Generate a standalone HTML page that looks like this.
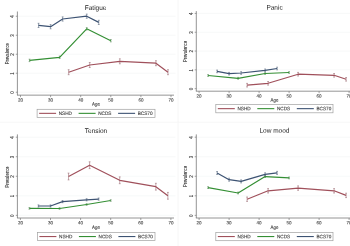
<!DOCTYPE html>
<html><head><meta charset="utf-8"><style>
html,body{margin:0;padding:0;background:#fff;width:350px;height:246px;overflow:hidden}
svg{display:block;will-change:transform;opacity:0.999}
#w{width:350px;height:246px}
text{font-family:"Liberation Sans", sans-serif;stroke:#3a3a3a;stroke-width:0.1px;paint-order:stroke}
</style></head><body><div id="w">
<svg width="350" height="246" viewBox="0 0 350 246">
<rect width="350" height="246" fill="#fff"/>
<line x1="17.9" y1="92.24" x2="175.5" y2="92.24" stroke="#f3f6f7" stroke-width="0.7"/>
<line x1="17.9" y1="73.24" x2="175.5" y2="73.24" stroke="#f3f6f7" stroke-width="0.7"/>
<line x1="17.9" y1="54.24" x2="175.5" y2="54.24" stroke="#f3f6f7" stroke-width="0.7"/>
<line x1="17.9" y1="35.24" x2="175.5" y2="35.24" stroke="#f3f6f7" stroke-width="0.7"/>
<line x1="17.9" y1="16.24" x2="175.5" y2="16.24" stroke="#f3f6f7" stroke-width="0.7"/>
<line x1="17.4" y1="11.5" x2="17.4" y2="95.15" stroke="#7a7a7a" stroke-width="0.8"/>
<line x1="17" y1="95.15" x2="174" y2="95.15" stroke="#7a7a7a" stroke-width="0.8"/>
<line x1="15.8" y1="92.24" x2="17.4" y2="92.24" stroke="#7a7a7a" stroke-width="0.7"/>
<text transform="translate(14.4,92.54) rotate(-90) scale(1,1.0)" text-anchor="middle" font-size="4.5" fill="#3a3a3a">0</text>
<line x1="15.8" y1="73.24" x2="17.4" y2="73.24" stroke="#7a7a7a" stroke-width="0.7"/>
<text transform="translate(14.4,73.54) rotate(-90) scale(1,1.0)" text-anchor="middle" font-size="4.5" fill="#3a3a3a">1</text>
<line x1="15.8" y1="54.24" x2="17.4" y2="54.24" stroke="#7a7a7a" stroke-width="0.7"/>
<text transform="translate(14.4,54.54) rotate(-90) scale(1,1.0)" text-anchor="middle" font-size="4.5" fill="#3a3a3a">2</text>
<line x1="15.8" y1="35.24" x2="17.4" y2="35.24" stroke="#7a7a7a" stroke-width="0.7"/>
<text transform="translate(14.4,35.54) rotate(-90) scale(1,1.0)" text-anchor="middle" font-size="4.5" fill="#3a3a3a">3</text>
<line x1="15.8" y1="16.24" x2="17.4" y2="16.24" stroke="#7a7a7a" stroke-width="0.7"/>
<text transform="translate(14.4,16.54) rotate(-90) scale(1,1.0)" text-anchor="middle" font-size="4.5" fill="#3a3a3a">4</text>
<line x1="20.5" y1="95.15" x2="20.5" y2="97.15" stroke="#7a7a7a" stroke-width="0.7"/>
<text transform="translate(20.5,101.45) rotate(0.1) scale(1,1.0)" text-anchor="middle" font-size="4.5" fill="#3a3a3a">20</text>
<line x1="50.6" y1="95.15" x2="50.6" y2="97.15" stroke="#7a7a7a" stroke-width="0.7"/>
<text transform="translate(50.6,101.45) rotate(0.1) scale(1,1.0)" text-anchor="middle" font-size="4.5" fill="#3a3a3a">30</text>
<line x1="80.7" y1="95.15" x2="80.7" y2="97.15" stroke="#7a7a7a" stroke-width="0.7"/>
<text transform="translate(80.7,101.45) rotate(0.1) scale(1,1.0)" text-anchor="middle" font-size="4.5" fill="#3a3a3a">40</text>
<line x1="110.8" y1="95.15" x2="110.8" y2="97.15" stroke="#7a7a7a" stroke-width="0.7"/>
<text transform="translate(110.8,101.45) rotate(0.1) scale(1,1.0)" text-anchor="middle" font-size="4.5" fill="#3a3a3a">50</text>
<line x1="140.9" y1="95.15" x2="140.9" y2="97.15" stroke="#7a7a7a" stroke-width="0.7"/>
<text transform="translate(140.9,101.45) rotate(0.1) scale(1,1.0)" text-anchor="middle" font-size="4.5" fill="#3a3a3a">60</text>
<line x1="171" y1="95.15" x2="171" y2="97.15" stroke="#7a7a7a" stroke-width="0.7"/>
<text transform="translate(171,101.45) rotate(0.1) scale(1,1.0)" text-anchor="middle" font-size="4.5" fill="#3a3a3a">70</text>
<text transform="translate(95.6,9.9) rotate(0.1) scale(1,1.04)" text-anchor="middle" font-size="6.5" fill="#222" style="stroke-width:0px">Fatigue</text>
<text transform="translate(8.6,53.8) rotate(-90) scale(1,1.2)" text-anchor="middle" font-size="4.2" fill="#3a3a3a">Prevalence</text>
<text transform="translate(96,105.8) rotate(0.1) scale(1,1.12)" text-anchor="middle" font-size="4.4" fill="#3a3a3a">Age</text>
<rect x="37.1" y="109.3" width="117.9" height="8.1" fill="#fff" stroke="#a0a0a0" stroke-width="0.7"/>
<line x1="39.1" y1="113.35" x2="56.1" y2="113.35" stroke="#a0505b" stroke-width="1.1"/>
<text transform="translate(58.7,115) rotate(0.1) scale(1,1.04)" font-size="4.7" fill="#3a3a3a">NSHD</text>
<line x1="78.6" y1="113.35" x2="95.6" y2="113.35" stroke="#348f34" stroke-width="1.1"/>
<text transform="translate(98.2,115) rotate(0.1) scale(1,1.04)" font-size="4.7" fill="#3a3a3a">NCDS</text>
<line x1="118.1" y1="113.35" x2="135.1" y2="113.35" stroke="#3d5373" stroke-width="1.1"/>
<text transform="translate(137.7,115) rotate(0.1) scale(1,1.04)" font-size="4.7" fill="#3a3a3a">BCS70</text>
<path d="M68.66 69.7V74.7M67.76 69.7H69.56M67.76 74.7H69.56M89.73 62.5V67.5M88.83 62.5H90.63M88.83 67.5H90.63M119.83 58.8V63.8M118.93 58.8H120.73M118.93 63.8H120.73M155.95 60.7V65.7M155.05 60.7H156.85M155.05 65.7H156.85M167.99 69.7V74.7M167.09 69.7H168.89M167.09 74.7H168.89" stroke="#9a6a72" stroke-width="0.6" fill="none"/>
<polyline points="68.66,72.2 89.73,65 119.83,61.3 155.95,63.2 167.99,72.2" fill="none" stroke="#a0505b" stroke-width="1.2" stroke-linejoin="round"/>
<path d="M29.53 59.2V61.6M28.63 59.2H30.43M28.63 61.6H30.43M59.63 56.1V58.5M58.73 56.1H60.53M58.73 58.5H60.53M86.72 27.6V30M85.82 27.6H87.62M85.82 30H87.62M110.8 39.5V41.9M109.9 39.5H111.7M109.9 41.9H111.7" stroke="#5a8a5a" stroke-width="0.6" fill="none"/>
<polyline points="29.53,60.4 59.63,57.3 86.72,28.8 110.8,40.7" fill="none" stroke="#348f34" stroke-width="1.2" stroke-linejoin="round"/>
<path d="M38.56 23.3V27.5M37.66 23.3H39.46M37.66 27.5H39.46M50.6 24.6V28.8M49.7 24.6H51.5M49.7 28.8H51.5M62.64 16.9V21.1M61.74 16.9H63.54M61.74 21.1H63.54M86.72 14.1V18.3M85.82 14.1H87.62M85.82 18.3H87.62M98.76 20.3V24.5M97.86 20.3H99.66M97.86 24.5H99.66" stroke="#5a6a80" stroke-width="0.6" fill="none"/>
<polyline points="38.56,25.4 50.6,26.7 62.64,19 86.72,16.2 98.76,22.4" fill="none" stroke="#3d5373" stroke-width="1.2" stroke-linejoin="round"/>
<line x1="196.8" y1="88.65" x2="352.5" y2="88.65" stroke="#f3f6f7" stroke-width="0.7"/>
<line x1="196.8" y1="69.85" x2="352.5" y2="69.85" stroke="#f3f6f7" stroke-width="0.7"/>
<line x1="196.8" y1="51.05" x2="352.5" y2="51.05" stroke="#f3f6f7" stroke-width="0.7"/>
<line x1="196.8" y1="32.25" x2="352.5" y2="32.25" stroke="#f3f6f7" stroke-width="0.7"/>
<line x1="196.8" y1="13.45" x2="352.5" y2="13.45" stroke="#f3f6f7" stroke-width="0.7"/>
<line x1="196.3" y1="11.1" x2="196.3" y2="91.2" stroke="#7a7a7a" stroke-width="0.8"/>
<line x1="195.9" y1="91.2" x2="351" y2="91.2" stroke="#7a7a7a" stroke-width="0.8"/>
<line x1="194.7" y1="88.65" x2="196.3" y2="88.65" stroke="#7a7a7a" stroke-width="0.7"/>
<text transform="translate(193.3,88.95) rotate(-90) scale(1,1.0)" text-anchor="middle" font-size="4.5" fill="#3a3a3a">0</text>
<line x1="194.7" y1="69.85" x2="196.3" y2="69.85" stroke="#7a7a7a" stroke-width="0.7"/>
<text transform="translate(193.3,70.15) rotate(-90) scale(1,1.0)" text-anchor="middle" font-size="4.5" fill="#3a3a3a">1</text>
<line x1="194.7" y1="51.05" x2="196.3" y2="51.05" stroke="#7a7a7a" stroke-width="0.7"/>
<text transform="translate(193.3,51.35) rotate(-90) scale(1,1.0)" text-anchor="middle" font-size="4.5" fill="#3a3a3a">2</text>
<line x1="194.7" y1="32.25" x2="196.3" y2="32.25" stroke="#7a7a7a" stroke-width="0.7"/>
<text transform="translate(193.3,32.55) rotate(-90) scale(1,1.0)" text-anchor="middle" font-size="4.5" fill="#3a3a3a">3</text>
<line x1="194.7" y1="13.45" x2="196.3" y2="13.45" stroke="#7a7a7a" stroke-width="0.7"/>
<text transform="translate(193.3,13.75) rotate(-90) scale(1,1.0)" text-anchor="middle" font-size="4.5" fill="#3a3a3a">4</text>
<line x1="199.1" y1="91.2" x2="199.1" y2="93.2" stroke="#7a7a7a" stroke-width="0.7"/>
<text transform="translate(199.1,97.5) rotate(0.1) scale(1,1.0)" text-anchor="middle" font-size="4.5" fill="#3a3a3a">20</text>
<line x1="229.1" y1="91.2" x2="229.1" y2="93.2" stroke="#7a7a7a" stroke-width="0.7"/>
<text transform="translate(229.1,97.5) rotate(0.1) scale(1,1.0)" text-anchor="middle" font-size="4.5" fill="#3a3a3a">30</text>
<line x1="259.1" y1="91.2" x2="259.1" y2="93.2" stroke="#7a7a7a" stroke-width="0.7"/>
<text transform="translate(259.1,97.5) rotate(0.1) scale(1,1.0)" text-anchor="middle" font-size="4.5" fill="#3a3a3a">40</text>
<line x1="289.1" y1="91.2" x2="289.1" y2="93.2" stroke="#7a7a7a" stroke-width="0.7"/>
<text transform="translate(289.1,97.5) rotate(0.1) scale(1,1.0)" text-anchor="middle" font-size="4.5" fill="#3a3a3a">50</text>
<line x1="319.1" y1="91.2" x2="319.1" y2="93.2" stroke="#7a7a7a" stroke-width="0.7"/>
<text transform="translate(319.1,97.5) rotate(0.1) scale(1,1.0)" text-anchor="middle" font-size="4.5" fill="#3a3a3a">60</text>
<line x1="349.1" y1="91.2" x2="349.1" y2="93.2" stroke="#7a7a7a" stroke-width="0.7"/>
<text transform="translate(349.1,97.5) rotate(0.1) scale(1,1.0)" text-anchor="middle" font-size="4.5" fill="#3a3a3a">70</text>
<text transform="translate(274.5,9.8) rotate(0.1) scale(1,1.04)" text-anchor="middle" font-size="6.5" fill="#222" style="stroke-width:0px">Panic</text>
<text transform="translate(186.8,51.5) rotate(-90) scale(1,1.2)" text-anchor="middle" font-size="4.2" fill="#3a3a3a">Prevalence</text>
<text transform="translate(274.5,101.8) rotate(0.1) scale(1,1.12)" text-anchor="middle" font-size="4.4" fill="#3a3a3a">Age</text>
<rect x="215.8" y="104.5" width="117.2" height="8.3" fill="#fff" stroke="#a0a0a0" stroke-width="0.7"/>
<line x1="217.8" y1="108.65" x2="234.8" y2="108.65" stroke="#a0505b" stroke-width="1.1"/>
<text transform="translate(237.4,110.3) rotate(0.1) scale(1,1.04)" font-size="4.7" fill="#3a3a3a">NSHD</text>
<line x1="257.3" y1="108.65" x2="274.3" y2="108.65" stroke="#348f34" stroke-width="1.1"/>
<text transform="translate(276.9,110.3) rotate(0.1) scale(1,1.04)" font-size="4.7" fill="#3a3a3a">NCDS</text>
<line x1="296.8" y1="108.65" x2="313.8" y2="108.65" stroke="#3d5373" stroke-width="1.1"/>
<text transform="translate(316.4,110.3) rotate(0.1) scale(1,1.04)" font-size="4.7" fill="#3a3a3a">BCS70</text>
<path d="M247.1 83.4V87M246.2 83.4H248M246.2 87H248M268.1 81.5V85.1M267.2 81.5H269M267.2 85.1H269M298.1 72.4V76M297.2 72.4H299M297.2 76H299M334.1 73.5V77.1M333.2 73.5H335M333.2 77.1H335M346.1 77.5V81.1M345.2 77.5H347M345.2 81.1H347" stroke="#9a6a72" stroke-width="0.6" fill="none"/>
<polyline points="247.1,85.2 268.1,83.3 298.1,74.2 334.1,75.3 346.1,79.3" fill="none" stroke="#a0505b" stroke-width="1.2" stroke-linejoin="round"/>
<path d="M208.1 74.6V76.4M207.2 74.6H209M207.2 76.4H209M238.1 77.4V79.2M237.2 77.4H239M237.2 79.2H239M265.1 72.6V74.4M264.2 72.6H266M264.2 74.4H266M289.1 71.6V73.4M288.2 71.6H290M288.2 73.4H290" stroke="#5a8a5a" stroke-width="0.6" fill="none"/>
<polyline points="208.1,75.5 238.1,78.3 265.1,73.5 289.1,72.5" fill="none" stroke="#348f34" stroke-width="1.2" stroke-linejoin="round"/>
<path d="M217.1 70.1V72.7M216.2 70.1H218M216.2 72.7H218M229.1 72.4V75M228.2 72.4H230M228.2 75H230M241.1 71.7V74.3M240.2 71.7H242M240.2 74.3H242M265.1 69V71.6M264.2 69H266M264.2 71.6H266M277.1 67.2V69.8M276.2 67.2H278M276.2 69.8H278" stroke="#5a6a80" stroke-width="0.6" fill="none"/>
<polyline points="217.1,71.4 229.1,73.7 241.1,73 265.1,70.3 277.1,68.5" fill="none" stroke="#3d5373" stroke-width="1.2" stroke-linejoin="round"/>
<line x1="17.9" y1="215.36" x2="175.5" y2="215.36" stroke="#f3f6f7" stroke-width="0.7"/>
<line x1="17.9" y1="195.82" x2="175.5" y2="195.82" stroke="#f3f6f7" stroke-width="0.7"/>
<line x1="17.9" y1="176.28" x2="175.5" y2="176.28" stroke="#f3f6f7" stroke-width="0.7"/>
<line x1="17.9" y1="156.74" x2="175.5" y2="156.74" stroke="#f3f6f7" stroke-width="0.7"/>
<line x1="17.9" y1="137.2" x2="175.5" y2="137.2" stroke="#f3f6f7" stroke-width="0.7"/>
<line x1="17.4" y1="134.4" x2="17.4" y2="218" stroke="#7a7a7a" stroke-width="0.8"/>
<line x1="17" y1="218" x2="174" y2="218" stroke="#7a7a7a" stroke-width="0.8"/>
<line x1="15.8" y1="215.36" x2="17.4" y2="215.36" stroke="#7a7a7a" stroke-width="0.7"/>
<text transform="translate(14.4,215.66) rotate(-90) scale(1,1.0)" text-anchor="middle" font-size="4.5" fill="#3a3a3a">0</text>
<line x1="15.8" y1="195.82" x2="17.4" y2="195.82" stroke="#7a7a7a" stroke-width="0.7"/>
<text transform="translate(14.4,196.12) rotate(-90) scale(1,1.0)" text-anchor="middle" font-size="4.5" fill="#3a3a3a">1</text>
<line x1="15.8" y1="176.28" x2="17.4" y2="176.28" stroke="#7a7a7a" stroke-width="0.7"/>
<text transform="translate(14.4,176.58) rotate(-90) scale(1,1.0)" text-anchor="middle" font-size="4.5" fill="#3a3a3a">2</text>
<line x1="15.8" y1="156.74" x2="17.4" y2="156.74" stroke="#7a7a7a" stroke-width="0.7"/>
<text transform="translate(14.4,157.04) rotate(-90) scale(1,1.0)" text-anchor="middle" font-size="4.5" fill="#3a3a3a">3</text>
<line x1="15.8" y1="137.2" x2="17.4" y2="137.2" stroke="#7a7a7a" stroke-width="0.7"/>
<text transform="translate(14.4,137.5) rotate(-90) scale(1,1.0)" text-anchor="middle" font-size="4.5" fill="#3a3a3a">4</text>
<line x1="20.4" y1="218" x2="20.4" y2="220" stroke="#7a7a7a" stroke-width="0.7"/>
<text transform="translate(20.4,224.3) rotate(0.1) scale(1,1.0)" text-anchor="middle" font-size="4.5" fill="#3a3a3a">20</text>
<line x1="50.5" y1="218" x2="50.5" y2="220" stroke="#7a7a7a" stroke-width="0.7"/>
<text transform="translate(50.5,224.3) rotate(0.1) scale(1,1.0)" text-anchor="middle" font-size="4.5" fill="#3a3a3a">30</text>
<line x1="80.6" y1="218" x2="80.6" y2="220" stroke="#7a7a7a" stroke-width="0.7"/>
<text transform="translate(80.6,224.3) rotate(0.1) scale(1,1.0)" text-anchor="middle" font-size="4.5" fill="#3a3a3a">40</text>
<line x1="110.7" y1="218" x2="110.7" y2="220" stroke="#7a7a7a" stroke-width="0.7"/>
<text transform="translate(110.7,224.3) rotate(0.1) scale(1,1.0)" text-anchor="middle" font-size="4.5" fill="#3a3a3a">50</text>
<line x1="140.8" y1="218" x2="140.8" y2="220" stroke="#7a7a7a" stroke-width="0.7"/>
<text transform="translate(140.8,224.3) rotate(0.1) scale(1,1.0)" text-anchor="middle" font-size="4.5" fill="#3a3a3a">60</text>
<line x1="170.9" y1="218" x2="170.9" y2="220" stroke="#7a7a7a" stroke-width="0.7"/>
<text transform="translate(170.9,224.3) rotate(0.1) scale(1,1.0)" text-anchor="middle" font-size="4.5" fill="#3a3a3a">70</text>
<text transform="translate(96,132.9) rotate(0.1) scale(1,1.04)" text-anchor="middle" font-size="6.5" fill="#222" style="stroke-width:0px">Tension</text>
<text transform="translate(8.8,177.1) rotate(-90) scale(1,1.2)" text-anchor="middle" font-size="4.2" fill="#3a3a3a">Prevalence</text>
<text transform="translate(96,229) rotate(0.1) scale(1,1.12)" text-anchor="middle" font-size="4.4" fill="#3a3a3a">Age</text>
<rect x="37.4" y="232.5" width="117.6" height="8.1" fill="#fff" stroke="#a0a0a0" stroke-width="0.7"/>
<line x1="39.4" y1="236.55" x2="56.4" y2="236.55" stroke="#a0505b" stroke-width="1.1"/>
<text transform="translate(59,238.2) rotate(0.1) scale(1,1.04)" font-size="4.7" fill="#3a3a3a">NSHD</text>
<line x1="78.9" y1="236.55" x2="95.9" y2="236.55" stroke="#348f34" stroke-width="1.1"/>
<text transform="translate(98.5,238.2) rotate(0.1) scale(1,1.04)" font-size="4.7" fill="#3a3a3a">NCDS</text>
<line x1="118.4" y1="236.55" x2="135.4" y2="236.55" stroke="#3d5373" stroke-width="1.1"/>
<text transform="translate(138,238.2) rotate(0.1) scale(1,1.04)" font-size="4.7" fill="#3a3a3a">BCS70</text>
<path d="M68.56 173.1V179.9M67.66 173.1H69.46M67.66 179.9H69.46M89.63 161.8V168.6M88.73 161.8H90.53M88.73 168.6H90.53M119.73 176.9V183.7M118.83 176.9H120.63M118.83 183.7H120.63M155.85 183.3V190.1M154.95 183.3H156.75M154.95 190.1H156.75M167.89 192.4V199.2M166.99 192.4H168.79M166.99 199.2H168.79" stroke="#9a6a72" stroke-width="0.6" fill="none"/>
<polyline points="68.56,176.5 89.63,165.2 119.73,180.3 155.85,186.7 167.89,195.8" fill="none" stroke="#a0505b" stroke-width="1.2" stroke-linejoin="round"/>
<path d="M29.43 207.6V209.2M28.53 207.6H30.33M28.53 209.2H30.33M59.53 207.7V209.3M58.63 207.7H60.43M58.63 209.3H60.43M86.62 203.7V205.3M85.72 203.7H87.52M85.72 205.3H87.52M110.7 199.7V201.3M109.8 199.7H111.6M109.8 201.3H111.6" stroke="#5a8a5a" stroke-width="0.6" fill="none"/>
<polyline points="29.43,208.4 59.53,208.5 86.62,204.5 110.7,200.5" fill="none" stroke="#348f34" stroke-width="1.2" stroke-linejoin="round"/>
<path d="M38.46 204.9V207.1M37.56 204.9H39.36M37.56 207.1H39.36M50.5 204.9V207.1M49.6 204.9H51.4M49.6 207.1H51.4M62.54 200.5V202.7M61.64 200.5H63.44M61.64 202.7H63.44M86.62 198.7V200.9M85.72 198.7H87.52M85.72 200.9H87.52M98.66 198V200.2M97.76 198H99.56M97.76 200.2H99.56" stroke="#5a6a80" stroke-width="0.6" fill="none"/>
<polyline points="38.46,206 50.5,206 62.54,201.6 86.62,199.8 98.66,199.1" fill="none" stroke="#3d5373" stroke-width="1.2" stroke-linejoin="round"/>
<line x1="196.8" y1="215.36" x2="352.5" y2="215.36" stroke="#f3f6f7" stroke-width="0.7"/>
<line x1="196.8" y1="195.82" x2="352.5" y2="195.82" stroke="#f3f6f7" stroke-width="0.7"/>
<line x1="196.8" y1="176.28" x2="352.5" y2="176.28" stroke="#f3f6f7" stroke-width="0.7"/>
<line x1="196.8" y1="156.74" x2="352.5" y2="156.74" stroke="#f3f6f7" stroke-width="0.7"/>
<line x1="196.8" y1="137.2" x2="352.5" y2="137.2" stroke="#f3f6f7" stroke-width="0.7"/>
<line x1="196.3" y1="134.4" x2="196.3" y2="218" stroke="#7a7a7a" stroke-width="0.8"/>
<line x1="195.9" y1="218" x2="351" y2="218" stroke="#7a7a7a" stroke-width="0.8"/>
<line x1="194.7" y1="215.36" x2="196.3" y2="215.36" stroke="#7a7a7a" stroke-width="0.7"/>
<text transform="translate(193.3,215.66) rotate(-90) scale(1,1.0)" text-anchor="middle" font-size="4.5" fill="#3a3a3a">0</text>
<line x1="194.7" y1="195.82" x2="196.3" y2="195.82" stroke="#7a7a7a" stroke-width="0.7"/>
<text transform="translate(193.3,196.12) rotate(-90) scale(1,1.0)" text-anchor="middle" font-size="4.5" fill="#3a3a3a">1</text>
<line x1="194.7" y1="176.28" x2="196.3" y2="176.28" stroke="#7a7a7a" stroke-width="0.7"/>
<text transform="translate(193.3,176.58) rotate(-90) scale(1,1.0)" text-anchor="middle" font-size="4.5" fill="#3a3a3a">2</text>
<line x1="194.7" y1="156.74" x2="196.3" y2="156.74" stroke="#7a7a7a" stroke-width="0.7"/>
<text transform="translate(193.3,157.04) rotate(-90) scale(1,1.0)" text-anchor="middle" font-size="4.5" fill="#3a3a3a">3</text>
<line x1="194.7" y1="137.2" x2="196.3" y2="137.2" stroke="#7a7a7a" stroke-width="0.7"/>
<text transform="translate(193.3,137.5) rotate(-90) scale(1,1.0)" text-anchor="middle" font-size="4.5" fill="#3a3a3a">4</text>
<line x1="199.1" y1="218" x2="199.1" y2="220" stroke="#7a7a7a" stroke-width="0.7"/>
<text transform="translate(199.1,224.3) rotate(0.1) scale(1,1.0)" text-anchor="middle" font-size="4.5" fill="#3a3a3a">20</text>
<line x1="229.1" y1="218" x2="229.1" y2="220" stroke="#7a7a7a" stroke-width="0.7"/>
<text transform="translate(229.1,224.3) rotate(0.1) scale(1,1.0)" text-anchor="middle" font-size="4.5" fill="#3a3a3a">30</text>
<line x1="259.1" y1="218" x2="259.1" y2="220" stroke="#7a7a7a" stroke-width="0.7"/>
<text transform="translate(259.1,224.3) rotate(0.1) scale(1,1.0)" text-anchor="middle" font-size="4.5" fill="#3a3a3a">40</text>
<line x1="289.1" y1="218" x2="289.1" y2="220" stroke="#7a7a7a" stroke-width="0.7"/>
<text transform="translate(289.1,224.3) rotate(0.1) scale(1,1.0)" text-anchor="middle" font-size="4.5" fill="#3a3a3a">50</text>
<line x1="319.1" y1="218" x2="319.1" y2="220" stroke="#7a7a7a" stroke-width="0.7"/>
<text transform="translate(319.1,224.3) rotate(0.1) scale(1,1.0)" text-anchor="middle" font-size="4.5" fill="#3a3a3a">60</text>
<line x1="349.1" y1="218" x2="349.1" y2="220" stroke="#7a7a7a" stroke-width="0.7"/>
<text transform="translate(349.1,224.3) rotate(0.1) scale(1,1.0)" text-anchor="middle" font-size="4.5" fill="#3a3a3a">70</text>
<text transform="translate(274.4,132.8) rotate(0.1) scale(1,1.04)" text-anchor="middle" font-size="6.5" fill="#222" style="stroke-width:0px">Low mood</text>
<text transform="translate(186.8,176.5) rotate(-90) scale(1,1.2)" text-anchor="middle" font-size="4.2" fill="#3a3a3a">Prevalence</text>
<text transform="translate(274.5,229) rotate(0.1) scale(1,1.12)" text-anchor="middle" font-size="4.4" fill="#3a3a3a">Age</text>
<rect x="215.8" y="232.4" width="117.2" height="8.3" fill="#fff" stroke="#a0a0a0" stroke-width="0.7"/>
<line x1="217.8" y1="236.55" x2="234.8" y2="236.55" stroke="#a0505b" stroke-width="1.1"/>
<text transform="translate(237.4,238.2) rotate(0.1) scale(1,1.04)" font-size="4.7" fill="#3a3a3a">NSHD</text>
<line x1="257.3" y1="236.55" x2="274.3" y2="236.55" stroke="#348f34" stroke-width="1.1"/>
<text transform="translate(276.9,238.2) rotate(0.1) scale(1,1.04)" font-size="4.7" fill="#3a3a3a">NCDS</text>
<line x1="296.8" y1="236.55" x2="313.8" y2="236.55" stroke="#3d5373" stroke-width="1.1"/>
<text transform="translate(316.4,238.2) rotate(0.1) scale(1,1.04)" font-size="4.7" fill="#3a3a3a">BCS70</text>
<path d="M247.1 197V201.4M246.2 197H248M246.2 201.4H248M268.1 188.6V193M267.2 188.6H269M267.2 193H269M298.1 185.9V190.3M297.2 185.9H299M297.2 190.3H299M334.1 188.6V193M333.2 188.6H335M333.2 193H335M346.1 193.2V197.6M345.2 193.2H347M345.2 197.6H347" stroke="#9a6a72" stroke-width="0.6" fill="none"/>
<polyline points="247.1,199.2 268.1,190.8 298.1,188.1 334.1,190.8 346.1,195.4" fill="none" stroke="#a0505b" stroke-width="1.2" stroke-linejoin="round"/>
<path d="M208.1 186.7V188.5M207.2 186.7H209M207.2 188.5H209M238.1 192.1V193.9M237.2 192.1H239M237.2 193.9H239M265.1 175.7V177.5M264.2 175.7H266M264.2 177.5H266M289.1 177V178.8M288.2 177H290M288.2 178.8H290" stroke="#5a8a5a" stroke-width="0.6" fill="none"/>
<polyline points="208.1,187.6 238.1,193 265.1,176.6 289.1,177.9" fill="none" stroke="#348f34" stroke-width="1.2" stroke-linejoin="round"/>
<path d="M217.1 171.5V174.5M216.2 171.5H218M216.2 174.5H218M229.1 178.2V181.2M228.2 178.2H230M228.2 181.2H230M241.1 179.9V182.9M240.2 179.9H242M240.2 182.9H242M265.1 172.8V175.8M264.2 172.8H266M264.2 175.8H266M277.1 171.4V174.4M276.2 171.4H278M276.2 174.4H278" stroke="#5a6a80" stroke-width="0.6" fill="none"/>
<polyline points="217.1,173 229.1,179.7 241.1,181.4 265.1,174.3 277.1,172.9" fill="none" stroke="#3d5373" stroke-width="1.2" stroke-linejoin="round"/>
<line x1="178" y1="0" x2="178" y2="246" stroke="#f4f4f4" stroke-width="0.8"/><line x1="0" y1="122.3" x2="350" y2="122.3" stroke="#f6f6f6" stroke-width="0.8"/>
</svg></div></body></html>
